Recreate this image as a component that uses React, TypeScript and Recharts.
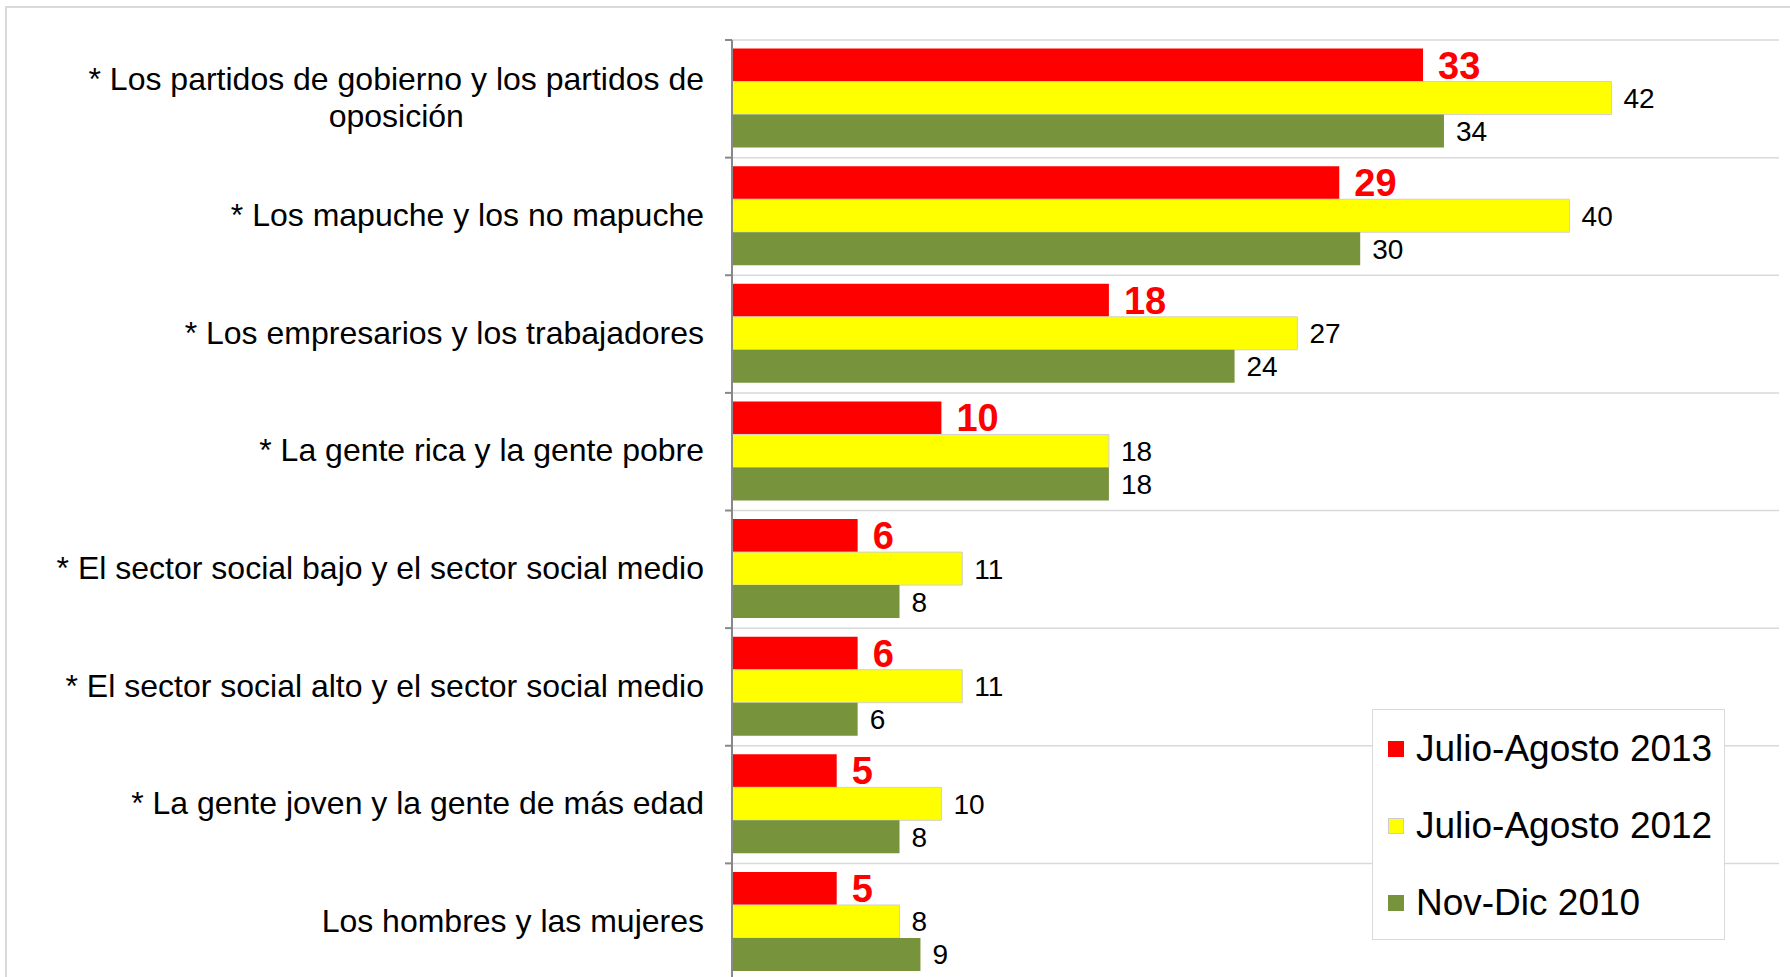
import React from 'react';
import { BarChart, Bar, XAxis, YAxis, CartesianGrid, Legend, LabelList } from 'recharts';

const categories = [
  '* Los partidos de gobierno y los partidos de oposición',
  '* Los mapuche y los no mapuche',
  '* Los empresarios y los trabajadores',
  '* La gente rica y la gente pobre',
  '* El sector social bajo y el sector social medio',
  '* El sector social alto y el sector social medio',
  '* La gente joven y la gente de más edad',
  'Los hombres y las mujeres',
];
const julAgo2013 = [33, 29, 18, 10, 6, 6, 5, 5];
const julAgo2012 = [42, 40, 27, 18, 11, 11, 10, 8];
const novDic2010 = [34, 30, 24, 18, 8, 6, 8, 9];
const seriesNames = ['Julio-Agosto 2013', 'Julio-Agosto 2012', 'Nov-Dic 2010'];

const data = categories.map((c, i) => ({
  cat: c,
  a: julAgo2013[i],
  b: julAgo2012[i],
  c: novDic2010[i],
}));

const FONT = '"Liberation Sans", Arial, sans-serif';
const CAT_FONT = 32;
const CHART_W = 1790;
const CHART_H = 990;
const MARGIN = { top: 40, right: 11, bottom: 9, left: 0 };
const PLOT_H = CHART_H - MARGIN.top - MARGIN.bottom;
const BAND = PLOT_H / categories.length;
const TICK_SIZE = 6;
const TICK_MARGIN = 22;

let ctx: CanvasRenderingContext2D | null = null;
function measure(t: string): number {
  if (!ctx) ctx = document.createElement('canvas').getContext('2d');
  if (!ctx) return t.length * CAT_FONT * 0.5;
  ctx.font = `${CAT_FONT}px ${FONT}`;
  return ctx.measureText(t).width;
}

function CategoryTick(props: any) {
  const { x, y, payload, index } = props;
  const words = String(payload.value).split(' ');
  const maxWidth = 680;
  const lines: string[] = [];
  let cur = '';
  words.forEach((w) => {
    const test = cur ? cur + ' ' + w : w;
    if (cur && measure(test) > maxWidth) {
      lines.push(cur);
      cur = w;
    } else cur = test;
  });
  if (cur) lines.push(cur);
  const widths = lines.map(measure);
  const mw = Math.max(...widths);
  const cx = x - mw / 2;
  const lh = 37.7;
  const sy = y - ((lines.length - 1) * lh) / 2;
  const axisX = x + TICK_SIZE + TICK_MARGIN;
  const i = typeof index === 'number' ? index : payload.index;
  return (
    <g>
      <line x1={axisX - 7} x2={axisX} y1={y - BAND / 2} y2={y - BAND / 2} stroke="#888" strokeWidth={2} />
      {i === categories.length - 1 && (
        <line x1={axisX - 7} x2={axisX} y1={y + BAND / 2} y2={y + BAND / 2} stroke="#888" strokeWidth={2} />
      )}
      <text x={cx} y={sy} textAnchor="middle" fill="#000" fontSize={CAT_FONT} fontFamily={FONT}>
        {lines.map((l, k) => (
          <tspan key={k} x={cx} y={sy + k * lh} dy="0.3em">
            {l}
          </tspan>
        ))}
      </text>
    </g>
  );
}

const legendOrder = ['a', 'b', 'c'];

function LegendBox(props: any) {
  const payload = [...(props.payload || [])].sort(
    (p: any, q: any) => legendOrder.indexOf(p.dataKey) - legendOrder.indexOf(q.dataKey)
  );
  return (
    <div
      style={{
        width: 353,
        height: 231,
        boxSizing: 'border-box',
        border: '1px solid #d9d9d9',
        background: '#fff',
        fontFamily: FONT,
        fontSize: 37,
        color: '#000',
      }}
    >
      {payload.map((p: any, i: number) => (
        <div key={i} style={{ height: 77, display: 'flex', alignItems: 'center', paddingLeft: 15 }}>
          <span
            style={{
              display: 'inline-block',
              width: 16,
              height: 16,
              background: p.color,
              boxSizing: 'border-box',
              border: p.color === '#FFFF00' ? '1px solid #ccc' : 'none',
              marginRight: 12,
            }}
          />
          <span style={{ lineHeight: 1 }}>{p.value}</span>
        </div>
      ))}
    </div>
  );
}

export default function App() {
  return (
    <div
      style={{
        position: 'fixed',
        left: 0,
        top: 0,
        width: 1790,
        height: 977,
        overflow: 'hidden',
        background: '#fff',
      }}
    >
      <div
        style={{
          position: 'absolute',
          left: 5,
          top: 6,
          width: 1850,
          height: 1050,
          border: '2px solid #d9d9d9',
        }}
      />
      <div style={{ position: 'absolute', left: 0, top: 0 }}>
        <BarChart
          width={CHART_W}
          height={CHART_H}
          data={data}
          layout="vertical"
          margin={MARGIN}
          barGap={0}
          barCategoryGap={8.6}
        >
          <CartesianGrid
            vertical={false}
            stroke="#d9d9d9"
            strokeWidth={1.5}
            horizontalCoordinatesGenerator={({ offset }: any) =>
              Array.from(
                { length: categories.length + 1 },
                (_, k) => offset.top + (k * offset.height) / categories.length
              )
            }
          />
          <XAxis type="number" domain={[0, 50]} hide />
          <YAxis
            type="category"
            dataKey="cat"
            width={732}
            axisLine={{ stroke: '#888', strokeWidth: 2 }}
            tickLine={false}
            tickSize={TICK_SIZE}
            tickMargin={TICK_MARGIN}
            interval={0}
            tick={<CategoryTick />}
          />
          <Legend
            layout="vertical"
            align="center"
            verticalAlign="middle"
            itemSorter="dataKey"
            content={<LegendBox />}
            wrapperStyle={{ position: 'absolute', left: 1372, top: 709, width: 353, height: 231 }}
          />
          <Bar dataKey="a" name={seriesNames[0]} fill="#FF0000" isAnimationActive={false}>
            <LabelList
              dataKey="a"
              position="right"
              offset={15}
              fill="#FF0000"
              fontSize={38}
              fontWeight="bold"
              fontFamily={FONT}
            />
          </Bar>
          <Bar
            dataKey="b"
            name={seriesNames[1]}
            fill="#FFFF00"
            stroke="#d0d0d0"
            strokeWidth={1}
            isAnimationActive={false}
          >
            <LabelList dataKey="b" position="right" offset={12} fill="#000" fontSize={28} fontFamily={FONT} />
          </Bar>
          <Bar dataKey="c" name={seriesNames[2]} fill="#77933C" isAnimationActive={false}>
            <LabelList dataKey="c" position="right" offset={12} fill="#000" fontSize={28} fontFamily={FONT} />
          </Bar>
        </BarChart>
      </div>
    </div>
  );
}
